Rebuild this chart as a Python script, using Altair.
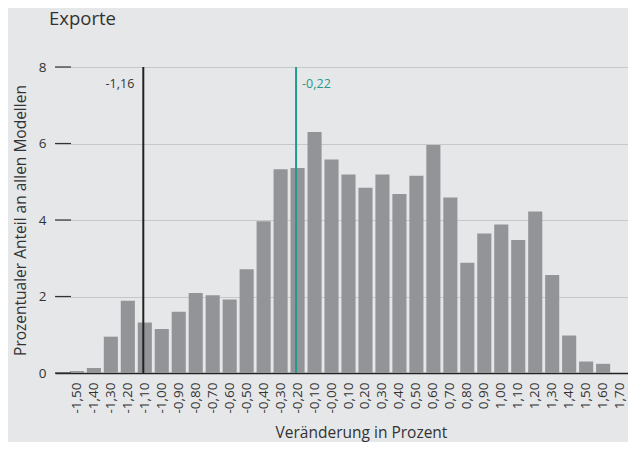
import altair as alt
import pandas as pd

categories = ["-1,50", "-1,40", "-1,30", "-1,20", "-1,10", "-1,00", "-0,90", "-0,80",
              "-0,70", "-0,60", "-0,50", "-0,40", "-0,30", "-0,20", "-0,10", "-0,00",
              "0,10", "0,20", "0,30", "0,40", "0,50", "0,60", "0,70", "0,80",
              "0,90", "1,00", "1,10", "1,20", "1,30", "1,40", "1,50", "1,60", "1,70"]
bar_categories = categories[:32]
shares = [0.05, 0.13, 0.95, 1.89, 1.32, 1.15, 1.60, 2.09, 2.03, 1.92, 2.71, 3.97,
          5.33, 5.36, 6.30, 5.58, 5.19, 4.84, 5.19, 4.68, 5.16, 5.96, 4.59, 2.88,
          3.65, 3.88, 3.48, 4.22, 2.56, 0.98, 0.30, 0.24]
y_ticks = [0, 2, 4, 6, 8]

marker_black_cat = "-1,10"
marker_black_label = "-1,16"
marker_teal_cat = "-0,20"
marker_teal_label = "-0,22"

FONT = "Open Sans"
TEXT = "#333333"
TEAL = "#1f9a8d"

bars_df = pd.DataFrame({"cat": bar_categories, "share": shares})
ticks_df = pd.DataFrame({"share": y_ticks})
black_df = pd.DataFrame({"cat": [marker_black_cat], "label": [marker_black_label]})
teal_df = pd.DataFrame({"cat": [marker_teal_cat], "label": [marker_teal_label]})

x_enc = alt.X(
    "cat:N",
    sort=categories,
    scale=alt.Scale(domain=categories, range=[0, 587], paddingInner=0.17, paddingOuter=0.875),
    axis=alt.Axis(
        title="Veränderung in Prozent",
        labelAngle=-90,
        labelPadding=9,
        labelFontSize=13.5,
        labelColor=TEXT,
        labelFont=FONT,
        ticks=False,
        domainColor="#222222",
        domainWidth=1.3,
        titleFont=FONT,
        titleFontSize=15.5,
        titleFontWeight="normal",
        titleColor=TEXT,
        titleX=306,
        titleY=64,
        titleBaseline="alphabetic",
        grid=False,
    ),
)

y_enc = alt.Y(
    "share:Q",
    scale=alt.Scale(domain=[0, 8], nice=False),
    axis=alt.Axis(
        title="Prozentualer Anteil an allen Modellen",
        values=y_ticks,
        ticks=False,
        domain=False,
        labelPadding=9,
        labelFontSize=13.5,
        labelColor=TEXT,
        labelFont=FONT,
        titleFont=FONT,
        titleFontSize=15.5,
        titleFontWeight="normal",
        titleColor=TEXT,
        titlePadding=10,
        gridColor="#c6c7c9",
        gridWidth=1,
    ),
)

bars = alt.Chart(bars_df).mark_bar(color="#939497").encode(x=x_enc, y=y_enc)

tick_marks = alt.Chart(ticks_df).mark_rule(color="#333333", strokeWidth=1.2).encode(
    y="share:Q", x=alt.value(0), x2=alt.value(16)
)

black_rule = alt.Chart(black_df).mark_rule(color="#222222", strokeWidth=2, xOffset=-1.5).encode(
    x="cat:N", y=alt.datum(0), y2=alt.datum(8)
)
teal_rule = alt.Chart(teal_df).mark_rule(color=TEAL, strokeWidth=2, xOffset=-1.5).encode(
    x="cat:N", y=alt.datum(0), y2=alt.datum(8)
)
black_text = alt.Chart(black_df).mark_text(
    align="right", baseline="middle", dx=-10.5, font=FONT, fontSize=12.5, color=TEXT
).encode(x="cat:N", y=alt.datum(7.56), text="label:N")
teal_text = alt.Chart(teal_df).mark_text(
    align="left", baseline="middle", dx=4.5, font=FONT, fontSize=12.5, color=TEAL
).encode(x="cat:N", y=alt.datum(7.56), text="label:N")

chart = alt.layer(bars, tick_marks, black_rule, teal_rule, black_text, teal_text).properties(
    width=573,
    height=306,
    autosize=alt.AutoSizeParams(type="none"),
    padding={"left": 47, "top": 59, "right": 0, "bottom": 69},
    background="#e6e7e9",
    title=alt.Title(
        "Exporte", anchor="start", frame="group", fontSize=18.5, font=FONT,
        fontWeight="normal", color=TEXT, offset=32, dx=-6
    ),
).configure_view(stroke=None)

chart.save("out.html", embed_options={"renderer": "svg", "actions": False})
